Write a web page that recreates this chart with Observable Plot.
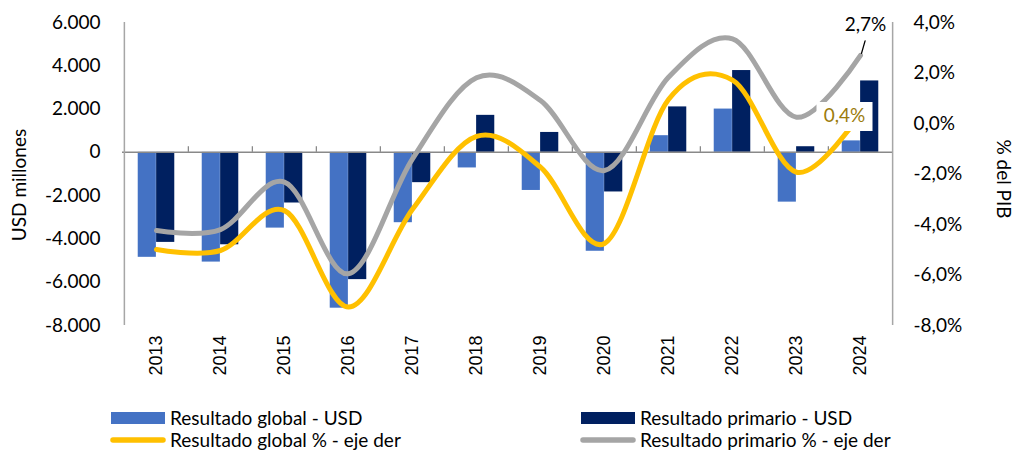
<!DOCTYPE html>
<html><head><meta charset="utf-8">
<script src="https://cdn.jsdelivr.net/npm/d3@7"></script>
<script src="https://cdn.jsdelivr.net/npm/@observablehq/plot@0.6"></script>
<style>
body{margin:0;background:#fff;font-family:Lato, sans-serif;}
#wrap{position:relative;width:1015px;height:452px;overflow:hidden;}
.item{position:absolute;display:flex;align-items:center;font-size:19px;color:#000;white-space:nowrap;line-height:20px;}
.item svg{margin-right:4px;}
</style></head><body>
<div id="wrap"><div id="chart"></div></div>
<script>
const years = [2013, 2014, 2015, 2016, 2017, 2018, 2019, 2020, 2021, 2022, 2023, 2024];
const globalUsd = [-4850, -5070, -3500, -7200, -3250, -720, -1760, -4570, 770, 2000, -2300, 530];
const primaryUsd = [-4160, -4270, -2340, -5880, -1400, 1710, 920, -1830, 2100, 3780, 260, 3300];
const globalPct = [-4.99, -5.03, -3.45, -7.27, -3.4, -0.51, -1.73, -4.75, 0.95, 1.72, -1.93, 0.4];
const primaryPct = [-4.24, -4.2, -2.32, -5.95, -1.4, 1.81, 0.91, -1.86, 1.83, 3.35, 0.25, 2.7];
const usdTicks = [-8000, -6000, -4000, -2000, 0, 2000, 4000, 6000];
const pctTicks = [-8, -6, -4, -2, 0, 2, 4];
const seriesNames = ["Resultado global - USD", "Resultado primario - USD", "Resultado global % - eje der", "Resultado primario % - eje der"];
const labelLast = ["2,7%", "0,4%"];

const C_GLOBAL = "#4472C4", C_PRIM = "#002060", C_GPCT = "#FFC000", C_PPCT = "#A5A5A5";
const W = 1015, H = 395, mL = 122, mR = 122, mT = 22, mB = 70;
const usdMin = -8000, usdMax = 6000, pctMin = -8, pctMax = 4;
const pctToUsd = p => usdMin + (p - pctMin) * (usdMax - usdMin) / (pctMax - pctMin);
const usdToPct = v => pctMin + (v - usdMin) * (pctMax - pctMin) / (usdMax - usdMin);

const yrs = years.map(String);
const rows = years.map((y, i) => ({
  year: String(y), g: globalUsd[i], p: primaryUsd[i],
  gp: pctToUsd(globalPct[i]), pp: pctToUsd(primaryPct[i])
}));
const last = rows[rows.length - 1];
const bw = (W - mL - mR) / years.length;
const barW = 18.4;
const gap = bw / 2 - barW;

const loc = d3.formatLocale({decimal: ",", thousands: ".", grouping: [3], currency: ["", ""], minus: "-"});
const fUsd = loc.format(",.0f");
const fPct = v => { const p = Math.round(usdToPct(v) * 10) / 10; return (p === 0 ? 0 : p).toFixed(1).replace(".", ",") + "%"; };

const boxSymbol = {draw(ctx) { ctx.rect(-28, -14.5, 56, 29); }};
const leader = {draw(ctx, l) { ctx.moveTo(0, 0); ctx.lineTo(0, -l); }};

const chart = Plot.plot({
  width: W, height: H,
  marginLeft: mL, marginRight: mR, marginTop: mT, marginBottom: mB,
  style: {fontFamily: "Lato, sans-serif", background: "#fff"},
  x: {type: "band", domain: yrs, paddingInner: 0, paddingOuter: 0},
  y: {domain: [usdMin, usdMax]},
  marks: [
    Plot.barY(rows, {x: "year", y: "g", fill: C_GLOBAL, insetLeft: gap, insetRight: bw / 2}),
    Plot.barY(rows, {x: "year", y: "p", fill: C_PRIM, insetLeft: bw / 2, insetRight: gap}),
    Plot.ruleY([0], {stroke: "#898989", strokeWidth: 1.5}),
    Plot.ruleX(yrs.slice(1), {x: d => d, y1: 0, y2: 260, dx: -bw / 2, stroke: "#898989", strokeWidth: 1.3}),
    Plot.ruleX([yrs[0]], {x: d => d, dx: -bw / 2, stroke: "#a6a6a6", strokeWidth: 1.5}),
    Plot.ruleX([yrs[yrs.length - 1]], {x: d => d, dx: bw / 2, stroke: "#a6a6a6", strokeWidth: 1.5}),
    Plot.line(rows, {x: "year", y: "pp", stroke: C_PPCT, strokeWidth: 5, curve: "cardinal", strokeLinecap: "round"}),
    Plot.line(rows, {x: "year", y: "gp", stroke: C_GPCT, strokeWidth: 5, curve: "cardinal", strokeLinecap: "round"}),
    Plot.dot([last], {x: "year", y: "gp", symbol: boxSymbol, r: 10, fill: "#fff", stroke: "none", dx: -16, dy: 3}),
    Plot.text([last], {x: "year", y: "gp", text: () => labelLast[1], fill: "#9C7C0C", fontSize: 19, dx: -16, dy: 3}),
    Plot.vector([last], {x: "year", y: "pp", length: 13, rotate: 16, shape: leader, anchor: "start", stroke: "#000", strokeWidth: 1.3, dy: -2, dx: 1}),
    Plot.text([last], {x: "year", y: "pp", text: () => labelLast[0], fill: "#000", fontSize: 19, dx: 5, dy: -30}),
    Plot.axisY(usdTicks, {anchor: "left", tickSize: 0, tickPadding: 22, tickFormat: fUsd, fontSize: 19, label: null}),
    Plot.axisY(pctTicks.map(pctToUsd), {anchor: "right", tickSize: 0, tickPadding: 20, tickFormat: fPct, fontSize: 19, label: null}),
    Plot.axisX({anchor: "bottom", tickSize: 0, tickPadding: 10, tickRotate: -90, fontSize: 18, fontFamily: "Liberation Sans, Arial, sans-serif", label: null}),
    Plot.text(["USD millones"], {frameAnchor: "left", text: d => d, rotate: -90, textAnchor: "middle", dx: -103, dy: 11, fontSize: 19}),
    Plot.text(["% del PIB"], {frameAnchor: "right", text: d => d, rotate: 90, textAnchor: "middle", dx: 110, dy: 5, fontSize: 19})
  ]
});
document.getElementById("chart").appendChild(chart);

const wrap = document.getElementById("wrap");
const legendItems = [
  {name: seriesNames[0], color: C_GLOBAL, kind: "rect", left: 110, top: 418},
  {name: seriesNames[1], color: C_PRIM, kind: "rect", left: 580, top: 418},
  {name: seriesNames[2], color: C_GPCT, kind: "line", left: 110, top: 440},
  {name: seriesNames[3], color: C_PPCT, kind: "line", left: 580, top: 440}
];
for (const it of legendItems) {
  const d = document.createElement("div");
  d.className = "item";
  d.style.left = it.left + "px";
  d.style.top = (it.top - 10) + "px";
  const sw = it.kind === "rect"
    ? `<svg width="56" height="16"><rect x="1" y="2" width="54" height="12" fill="${it.color}"/></svg>`
    : `<svg width="56" height="16"><line x1="3" y1="8" x2="53" y2="8" stroke="${it.color}" stroke-width="5.5" stroke-linecap="round"/></svg>`;
  d.innerHTML = sw + `<span>${it.name}</span>`;
  wrap.appendChild(d);
}
</script>
</body></html>
